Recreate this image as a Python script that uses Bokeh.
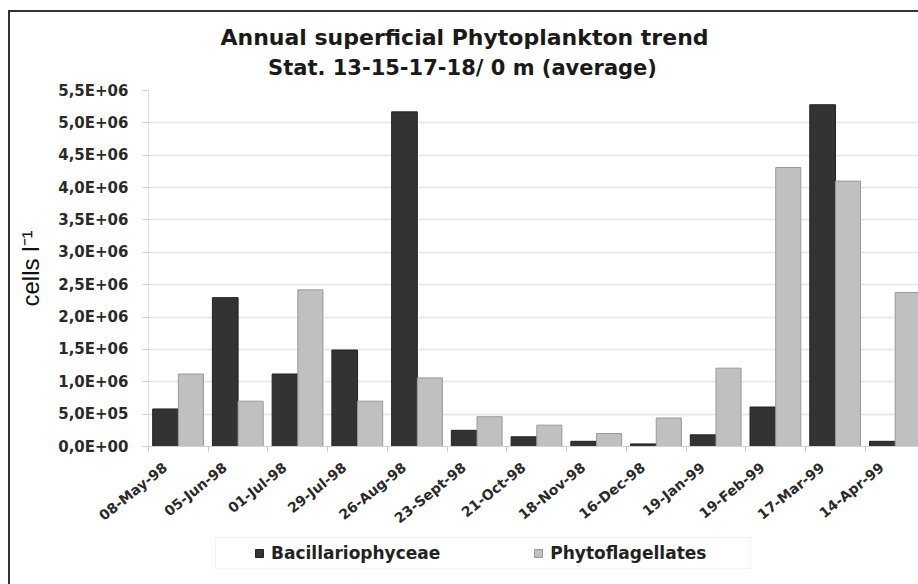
import numpy as np
from bokeh.plotting import figure
from bokeh.layouts import column
from bokeh.models import (Range1d, FixedTicker, Legend, LegendItem, Label, BoxAnnotation)
from bokeh.embed import file_html
from bokeh.resources import INLINE

# ---- data ----
dates = ["08-May-98", "05-Jun-98", "01-Jul-98", "29-Jul-98", "26-Aug-98", "23-Sept-98",
         "21-Oct-98", "18-Nov-98", "16-Dec-98", "19-Jan-99", "19-Feb-99", "17-Mar-99", "14-Apr-99"]
bacillariophyceae = [0.58e6, 2.30e6, 1.12e6, 1.49e6, 5.17e6, 0.25e6, 0.15e6, 0.08e6, 0.04e6,
                     0.18e6, 0.61e6, 5.28e6, 0.08e6]
phytoflagellates = [1.12e6, 0.70e6, 2.42e6, 0.70e6, 1.06e6, 0.46e6, 0.33e6, 0.20e6, 0.44e6,
                    1.21e6, 4.31e6, 4.10e6, 2.38e6]
y_tick_values = [0, 0.5e6, 1.0e6, 1.5e6, 2.0e6, 2.5e6, 3.0e6, 3.5e6, 4.0e6, 4.5e6, 5.0e6, 5.5e6]
y_tick_labels = ["0,0E+00", "5,0E+05", "1,0E+06", "1,5E+06", "2,0E+06", "2,5E+06",
                 "3,0E+06", "3,5E+06", "4,0E+06", "4,5E+06", "5,0E+06", "5,5E+06"]
title_lines = ["Annual superficial Phytoplankton trend", "Stat. 13-15-17-18/ 0 m (average)"]
series_names = ["Bacillariophyceae", "Phytoflagellates"]

BOLD_FONT = "DejaVu Sans"
FONT = "Liberation Sans"
W = 908
FRAME_W = 770
H_TITLE, H_CHART, H_LEG = 68, 455, 49
DARK, LIGHT = "#333333", "#c0c0c0"

idx = np.arange(len(dates))

# ---------- title strip (its frame is aligned with the chart frame) ----------
pt = figure(width=W, height=H_TITLE, output_backend="svg", toolbar_location=None,
            x_range=Range1d(0, FRAME_W), y_range=Range1d(0, H_TITLE),
            x_axis_location=None, y_axis_location=None,
            min_border=0, outline_line_color=None)
pt.grid.grid_line_color = None
pt.add_layout(Label(x=316, y=43, text=title_lines[0], text_align="center",
                    text_baseline="middle", text_font=BOLD_FONT, text_font_style="bold",
                    text_font_size="22px", text_color="#1a1a1a"))
pt.add_layout(Label(x=314, y=13, text=title_lines[1], text_align="center",
                    text_baseline="middle", text_font=BOLD_FONT, text_font_style="bold",
                    text_font_size="21px", text_color="#1a1a1a"))

# ---------- chart ----------
p = figure(width=W, height=H_CHART, output_backend="svg", toolbar_location=None,
           x_range=Range1d(0, 12.89), y_range=Range1d(0, 5.5e6),
           min_border_left=138, min_border_right=0, min_border_top=10, min_border_bottom=88)
p.outline_line_color = None

p.vbar(x=idx + 0.285, top=bacillariophyceae, width=0.43, fill_color=DARK,
       line_color="#222222", line_width=1)
p.vbar(x=idx + 0.71, top=phytoflagellates, width=0.42, fill_color=LIGHT,
       line_color="#999999", line_width=1)

label_pos = idx + 0.28
p.xaxis.ticker = FixedTicker(ticks=list(label_pos), minor_ticks=list(range(len(dates) + 1)))
p.xaxis.major_label_overrides = {float(v): d for v, d in zip(label_pos, dates)}
p.xaxis.major_label_orientation = 0.68
p.xaxis.major_label_text_font = BOLD_FONT
p.xaxis.major_label_text_font_style = "bold"
p.xaxis.major_label_text_font_size = "14px"
p.xaxis.major_label_text_color = "#2a2a2a"
p.xaxis.major_label_standoff = 13
p.xaxis.major_tick_line_color = None
p.xaxis.minor_tick_line_color = "#c8c8c8"
p.xaxis.minor_tick_out = 5
p.xaxis.minor_tick_in = 0
p.xaxis.axis_line_color = "#d0d0d0"

p.yaxis.ticker = FixedTicker(ticks=y_tick_values, minor_ticks=[])
p.yaxis.major_label_overrides = {float(v): s for v, s in zip(y_tick_values, y_tick_labels)}
p.yaxis.major_label_text_font = BOLD_FONT
p.yaxis.major_label_text_font_style = "bold"
p.yaxis.major_label_text_font_size = "15px"
p.yaxis.major_label_text_color = "#2a2a2a"
p.yaxis.major_label_standoff = 14
p.yaxis.major_tick_line_color = "#d0d0d0"
p.yaxis.major_tick_out = 6
p.yaxis.major_tick_in = 0
p.yaxis.axis_line_color = "#e0e0e0"
p.yaxis.axis_label = "cells l⁻¹"
p.yaxis.axis_label_text_font = FONT
p.yaxis.axis_label_text_font_style = "normal"
p.yaxis.axis_label_text_font_size = "24px"
p.yaxis.axis_label_text_color = "#111111"
p.yaxis.axis_label_standoff = 11

p.xgrid.grid_line_color = None
p.ygrid.grid_line_color = "#e4e4e4"
p.ygrid.grid_line_width = 1.5

# ---------- legend strip (frame aligned with the chart frame) ----------
pl = figure(width=W, height=H_LEG, output_backend="svg", toolbar_location=None,
            x_range=Range1d(0, FRAME_W), y_range=Range1d(0, H_LEG),
            x_axis_location=None, y_axis_location=None,
            min_border=0, outline_line_color=None)
pl.grid.grid_line_color = None
l1 = pl.vbar(x=idx, top=bacillariophyceae, width=0.43, fill_color=DARK, line_color="#222222")
l2 = pl.vbar(x=idx, top=phytoflagellates, width=0.42, fill_color=LIGHT, line_color="#999999")
l1.visible = False
l2.visible = False
pl.add_layout(BoxAnnotation(left=67, right=602, bottom=16, top=47, fill_alpha=0,
                            line_color="#d6d6d6", line_width=1))
legend = Legend(items=[LegendItem(label=series_names[0], renderers=[l1]),
                       LegendItem(label=series_names[1], renderers=[l2])],
                orientation="horizontal", location=(106, 21), click_policy="none",
                border_line_color=None, background_fill_alpha=0,
                inactive_fill_alpha=0,
                label_text_font=BOLD_FONT, label_text_font_style="bold",
                label_text_font_size="17px", label_text_color="#222222",
                glyph_width=10, glyph_height=10, spacing=93, label_standoff=7,
                padding=8, margin=0)
pl.add_layout(legend, "center")

layout = column(pt, p, pl, spacing=0)
layout.styles = {"margin-left": "8px", "margin-top": "10px",
                 "border-left": "2px solid #333333", "border-top": "2px solid #333333"}

open("out.html", "w").write(file_html(layout, INLINE))
